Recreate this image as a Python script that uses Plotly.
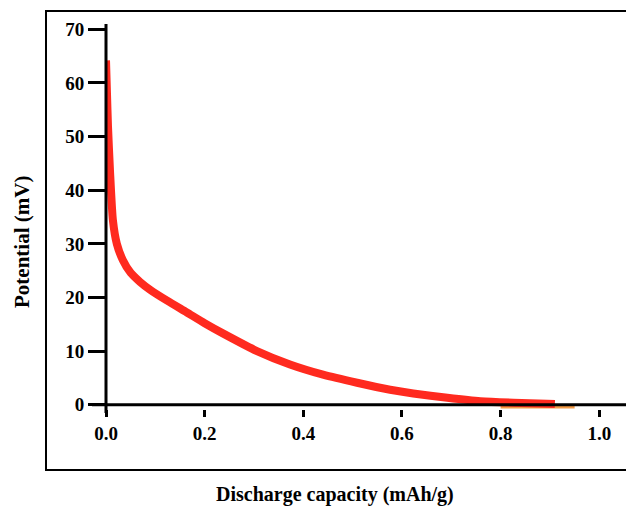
import plotly.graph_objects as go

# Data
capacity = [0.0, 0.002, 0.004, 0.008, 0.014, 0.022, 0.034, 0.05, 0.069, 0.09,
            0.124, 0.164, 0.2, 0.237, 0.306, 0.373, 0.44, 0.509, 0.576, 0.623,
            0.692, 0.759, 0.826, 0.894, 0.91]
potential = [64.2, 58.0, 52.0, 43.8, 34.4, 30.0, 27.0, 24.6, 22.9, 21.4,
             19.4, 17.2, 15.2, 13.3, 10.0, 7.5, 5.6, 4.1, 2.8, 2.1,
             1.3, 0.65, 0.37, 0.2, 0.15]
tail_capacity = [0.80, 0.85, 0.90, 0.95]
tail_potential = [-0.45, -0.45, -0.45, -0.45]

x_ticks = [0.0, 0.2, 0.4, 0.6, 0.8, 1.0]
y_ticks = [0, 10, 20, 30, 40, 50, 60, 70]

W, H = 626, 508
ML, MR, MT, MB = 106, 7, 24, 99
PW = W - ML - MR
PH = H - MT - MB

def px(xp):
    return (xp - ML) / PW

def py(yp):
    return (H - MB - yp) / PH

FONT = "Liberation Serif"

fig = go.Figure()
fig.add_trace(go.Scatter(x=tail_capacity, y=tail_potential, mode="lines",
                         line=dict(color="#f39a45", width=3), showlegend=False))
fig.add_trace(go.Scatter(x=capacity, y=potential, mode="lines",
                         line=dict(color="#ff2a1f", width=8, shape="spline", smoothing=0.6),
                         showlegend=False))

fig.update_layout(
    width=W, height=H,
    margin=dict(l=ML, r=MR, t=MT, b=MB),
    paper_bgcolor="white", plot_bgcolor="white",
    xaxis=dict(range=[0, 1.04], tickvals=x_ticks, ticktext=[f"{v:.1f}" for v in x_ticks],
               showgrid=False, zeroline=False, showline=False,
               ticks="outside", ticklen=7, tickwidth=2.5, tickcolor="black",
               tickfont=dict(family=FONT, size=19, color="black", weight="bold")),
    yaxis=dict(range=[-0.8, 71], tickvals=y_ticks,
               showgrid=False, zeroline=False, showline=False,
               ticks="outside", ticklen=17, tickwidth=3, tickcolor="black",
               tickfont=dict(family=FONT, size=19, color="black", weight="bold")),
    shapes=[
        # y axis line
        dict(type="line", xref="paper", yref="paper", x0=0, x1=0, y0=py(413), y1=1,
             line=dict(color="black", width=3)),
        # x axis line at y=0
        dict(type="line", xref="paper", yref="y", x0=px(92), x1=1.02, y0=0, y1=0,
             line=dict(color="black", width=3)),
        # outer frame
        dict(type="rect", xref="paper", yref="paper", x0=px(46), x1=px(640), y0=py(470), y1=py(11),
             line=dict(color="black", width=2)),
    ],
    annotations=[
        dict(text="Discharge capacity (mAh/g)", xref="paper", yref="paper",
             x=px(335), y=py(494), showarrow=False, xanchor="center", yanchor="middle",
             font=dict(family=FONT, size=20, color="black", weight="bold")),
        dict(text="Potential (mV)", xref="paper", yref="paper",
             x=px(22), y=py(242), showarrow=False, xanchor="center", yanchor="middle",
             textangle=-90,
             font=dict(family=FONT, size=21, color="black", weight="bold")),
    ],
)

fig.write_html("out.html")
